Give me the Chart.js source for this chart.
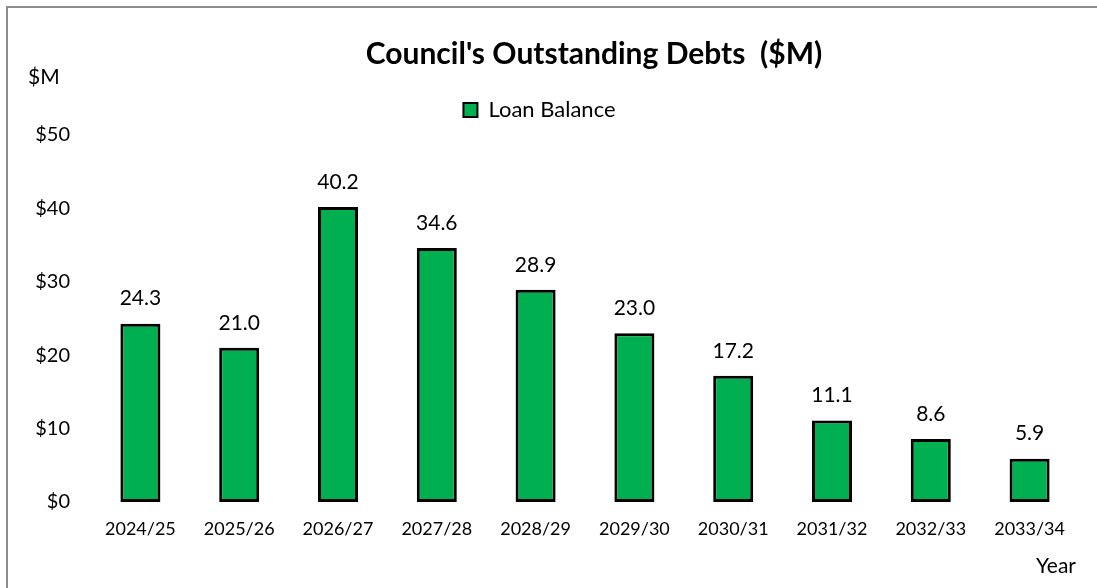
<!DOCTYPE html>
<html>
<head>
<meta charset="utf-8">
<script src="https://cdn.jsdelivr.net/npm/chart.js@4/dist/chart.umd.min.js"></script>
<style>
  html, body { margin: 0; padding: 0; background: #fff; }
  #wrap { width: 1097px; height: 588px; position: relative; }
</style>
</head>
<body>
<div id="wrap"><canvas id="debtChart" width="1097" height="588"></canvas></div>
<script>
const years = ['2024/25', '2025/26', '2026/27', '2027/28', '2028/29', '2029/30', '2030/31', '2031/32', '2032/33', '2033/34'];
const loanBalance = [24.3, 21.0, 40.2, 34.6, 28.9, 23.0, 17.2, 11.1, 8.6, 5.9];
const yTicks = [0, 10, 20, 30, 40, 50];

const FONT = 'Lato, "Open Sans", sans-serif';
const GREEN = '#00B050';

// frame, title, axis captions and value labels
const extrasPlugin = {
    id: 'extras',
    beforeDraw(chart) {
        const ctx = chart.ctx;
        ctx.save();
        ctx.strokeStyle = '#8c8c8c';
        ctx.lineWidth = 2;
        ctx.strokeRect(7, 7, chart.width + 20, chart.height + 20);
        ctx.restore();
    },
    afterDraw(chart) {
        const ctx = chart.ctx;
        ctx.save();
        ctx.fillStyle = '#000';
        ctx.textBaseline = 'middle';
        ctx.textAlign = 'center';
        ctx.font = 'bold 30px ' + FONT;
        ctx.fillText("Council's Outstanding Debts  ($M)", 594, 54);
        ctx.font = '21px ' + FONT;
        ctx.textAlign = 'left';
        ctx.fillText('$M', 28, 77);
        ctx.textAlign = 'right';
        ctx.fillText('Year', 1076, 566);
        ctx.restore();
    },
    afterDatasetsDraw(chart) {
        const ctx = chart.ctx;
        const meta = chart.getDatasetMeta(0);
        ctx.save();
        ctx.fillStyle = '#000';
        ctx.font = '21px ' + FONT;
        ctx.textAlign = 'center';
        ctx.textBaseline = 'middle';
        meta.data.forEach((bar, i) => {
            ctx.fillText(loanBalance[i].toFixed(1), bar.x, bar.y - 25);
        });
        ctx.restore();
    }
};

new Chart(document.getElementById('debtChart'), {
    type: 'bar',
    data: {
        labels: years,
        datasets: [{
            label: 'Loan Balance',
            data: loanBalance,
            backgroundColor: GREEN,
            borderColor: '#000',
            borderWidth: 3,
            borderSkipped: false,
            barPercentage: 0.405,
            categoryPercentage: 1
        }]
    },
    options: {
        responsive: false,
        animation: false,
        layout: { padding: { left: 0, right: 18, top: 80, bottom: 0 } },
        plugins: {
            title: { display: false },
            tooltip: { enabled: false },
            legend: {
                position: 'top',
                labels: {
                    font: { family: FONT, size: 22 },
                    color: '#000',
                    boxWidth: 14,
                    boxHeight: 14,
                    padding: 19,
                    generateLabels() {
                        return [{
                            text: 'Loan Balance',
                            fillStyle: GREEN,
                            strokeStyle: '#000',
                            lineWidth: 2,
                            datasetIndex: 0
                        }];
                    }
                }
            }
        },
        scales: {
            x: {
                grid: { display: false, drawTicks: false },
                border: { display: false },
                ticks: { color: '#000', font: { family: FONT, size: 18 }, padding: 16, maxRotation: 0 },
                afterFit(scale) { scale.height = 86; }
            },
            // empty strip between the legend and the plot area
            xTop: {
                axis: 'x',
                type: 'category',
                position: 'top',
                grid: { display: false, drawTicks: false },
                border: { display: false },
                ticks: { display: false },
                afterFit(scale) { scale.height = 4; }
            },
            y: {
                min: 0,
                max: 50,
                grid: { display: false, drawTicks: false },
                border: { display: false },
                afterBuildTicks(scale) { scale.ticks = yTicks.map(v => ({ value: v })); },
                ticks: {
                    color: '#000',
                    font: { family: FONT, size: 20 },
                    padding: 21,
                    callback: v => '$' + v
                },
                afterFit(scale) { scale.width = 91; }
            }
        }
    },
    plugins: [extrasPlugin]
});
</script>
</body>
</html>
